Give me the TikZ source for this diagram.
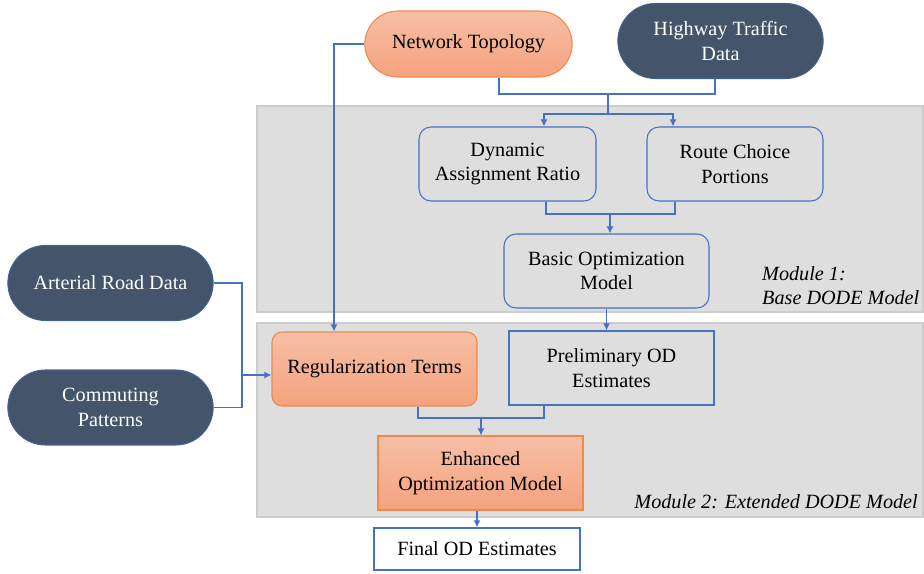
\documentclass[tikz,border=0pt]{standalone}
\usepackage{fontspec}
\setmainfont{Liberation Serif}
\usepackage{tikz}
\usetikzlibrary{arrows.meta,positioning,shapes.misc}
\definecolor{linkblue}{HTML}{4472C4}
\definecolor{slate}{HTML}{44546A}
\definecolor{peachtop}{HTML}{F7BFA6}
\definecolor{peachbot}{HTML}{F4A27E}
\definecolor{peachline}{HTML}{EE8A4C}
\definecolor{modgray}{HTML}{DEDEDE}
\definecolor{modline}{HTML}{CDCDCD}

\begin{document}
\begin{tikzpicture}[x=0.02cm,y=-0.02cm,>={Latex[length=4pt,width=4pt]},font=\fontsize{11.5}{14}\selectfont]
\tikzstyle{datapill}=[rounded rectangle, draw=linkblue!45!slate, line width=0.6pt, fill=slate, text=white, align=center, minimum width=4.34cm, minimum height=1.5cm]
\tikzstyle{peachpill}=[rounded rectangle, draw=peachline, line width=0.6pt, top color=peachtop, bottom color=peachbot, align=center, minimum width=4.38cm, minimum height=1.32cm]
\tikzstyle{peachbox}=[rectangle, draw=peachline, line width=0.6pt, top color=peachtop, bottom color=peachbot, align=center, minimum width=4.1cm, minimum height=1.48cm]
\tikzstyle{stepbox}=[rectangle, rounded corners=0.24cm, draw=linkblue, line width=0.6pt, align=center, minimum width=3.54cm, minimum height=1.48cm]
\tikzstyle{outbox}=[rectangle, draw=linkblue, line width=0.7pt, align=center, minimum width=4.1cm, minimum height=1.48cm]
\tikzstyle{wire}=[draw=linkblue, line width=1.1pt]
\tikzstyle{modlabel}=[font=\fontsize{11.5}{13.6}\selectfont\itshape, align=left]
\useasboundingbox (0,0) rectangle (924,574);

% module backgrounds
\filldraw[fill=modgray, draw=modline, line width=0.8pt] (257,106) rectangle (923,312);
\filldraw[fill=modgray, draw=modline, line width=0.8pt] (257,323) rectangle (923,517);
\node[modlabel, anchor=west] (mod1) at (756,286) {Module 1:\\Base DODE Model};
\node[modlabel, anchor=east] (mod2) at (924,502) {Module 2: Extended DODE Model};

% inputs
\node[peachpill] (topo) at (468.5,44) {Network Topology};
\node[datapill] (hwy) at (720.5,41) {Highway Traffic\\Data};
\node[datapill] (art) at (110.5,283) {Arterial Road Data};
\node[datapill] (comm) at (110.5,407.5) {Commuting\\Patterns};

% module 1
\node[stepbox] (dar) at (507.5,164) {Dynamic\\Assignment Ratio};
\node[stepbox, minimum width=3.52cm] (rcp) at (735,164) {Route Choice\\Portions};
\node[stepbox, minimum width=4.1cm] (bom) at (606.5,271) {Basic Optimization\\Model};

% module 2
\node[outbox] (prelim) at (611.5,368) {Preliminary OD\\Estimates};
\node[peachbox, rounded corners=0.2cm] (reg) at (374.5,369) {Regularization Terms};
\node[peachbox] (enh) at (480.5,473) {Enhanced\\Optimization Model};
\node[outbox, minimum width=4.12cm, minimum height=0.84cm] (final) at (477,549) {Final OD Estimates};

% connectors
\coordinate (tj) at (608,94);
\coordinate (tk) at (608,114);
\draw[wire] ([xshift=0.61cm]topo.south) |- (tj) -| ([xshift=-0.11cm]hwy.south);
\draw[wire] (tj) -- (tk);
\draw[wire,->] (tk) -| ([xshift=0.73cm]dar.north);
\draw[wire,->] (tk) -| ([xshift=-1.24cm]rcp.north);

\coordinate (dj) at (610,214);
\draw[wire] ([xshift=0.77cm]dar.south) |- (dj) -| ([xshift=-1.2cm]rcp.south);
\draw[wire,->] (dj) -- (dj |- bom.north);
\draw[wire,->] (bom.south) -- (bom.south |- prelim.north);

\draw[wire,->] (topo.west) -| ([xshift=-0.81cm]reg.north);

\coordinate (aj) at (242,375);
\draw[wire] (art.east) -| (aj);
\draw[wire] (comm.east) -| (aj);
\draw[wire,->] (aj) -- (aj -| reg.west);

\coordinate (rj) at (481,418);
\draw[wire] ([xshift=0.87cm]reg.south) |- (rj) -| ([xshift=-1.35cm]prelim.south);
\draw[wire,->] (rj) -- (rj |- enh.north);
\draw[wire,->] ([xshift=-0.07cm]enh.south) -- ([xshift=-0.07cm]enh.south |- final.north);
\end{tikzpicture}
\end{document}
